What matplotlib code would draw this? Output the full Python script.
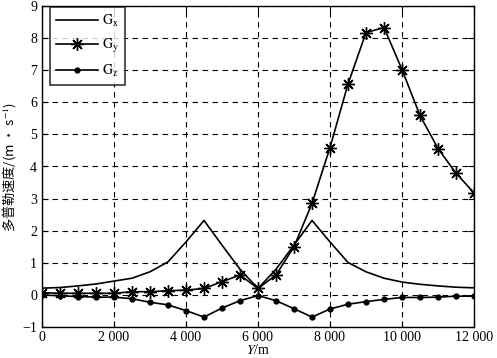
import numpy as np
import matplotlib
matplotlib.use('Agg')
import matplotlib.pyplot as plt
from matplotlib.ticker import FuncFormatter

plt.rcParams['font.family'] = 'Liberation Serif'
plt.rcParams['mathtext.fontset'] = 'stix'

# data
y_pos = [0, 500, 1000, 1500, 2000, 2500, 3000, 3500, 4000, 4500, 5000, 5500, 6000,
         6500, 7000, 7500, 8000, 8500, 9000, 9500, 10000, 10500, 11000, 11500, 12000]
gx = [0.21, 0.23, 0.28, 0.34, 0.43, 0.52, 0.72, 1.03, 1.65, 2.32, 1.55, 0.80, 0.20,
      0.80, 1.55, 2.32, 1.65, 1.01, 0.72, 0.52, 0.40, 0.33, 0.28, 0.24, 0.22]
gy = [0.07, 0.05, 0.05, 0.05, 0.05, 0.10, 0.10, 0.13, 0.15, 0.20, 0.41, 0.62, 0.20,
      0.62, 1.50, 2.85, 4.59, 6.57, 8.17, 8.33, 7.02, 5.59, 4.56, 3.79, 3.18]
gz = [0.0, -0.03, -0.05, -0.07, -0.07, -0.12, -0.23, -0.31, -0.49, -0.69, -0.41, -0.18, -0.02,
      -0.18, -0.43, -0.69, -0.44, -0.29, -0.21, -0.14, -0.08, -0.08, -0.07, -0.04, -0.04]

fig = plt.figure(figsize=(4.97, 3.58), dpi=100)
ax = fig.add_axes([42 / 497, 1 - 327 / 358, 432 / 497, 321 / 358])

ax.plot(y_pos, gx, color='black', lw=1.2, label='$\\mathrm{G_x}$')
ax.plot(y_pos, gy, color='black', lw=1.2, marker=(8, 2, 0), markersize=9,
        markeredgewidth=1.0, label='$\\mathrm{G_y}$')
ax.plot(y_pos, gz, color='black', lw=1.2, marker='o', markersize=3.5,
        label='$\\mathrm{G_z}$')

ax.set_xlim(0, 12000)
ax.set_ylim(-1, 9)
ax.set_xticks(np.arange(0, 12001, 2000))
ax.set_yticks(np.arange(-1, 10, 1))
ax.xaxis.set_major_formatter(FuncFormatter(lambda v, p: '0' if v == 0 else f'{int(v):,}'.replace(',', ' ')))
ax.grid(True, color='black', linestyle=(0, (5, 4)), linewidth=0.8)
ax.tick_params(direction='in', top=True, right=True, labelsize=10, length=4)
ax.tick_params(axis='x', pad=3)
for spine in ax.spines.values():
    spine.set_linewidth(1.0)

ax.set_xlabel('$Y$/m', fontsize=10, labelpad=-1)
ax.set_ylabel('多普勒速度/(m · s$^{-1}$)', fontsize=9.5,
              family=['Noto Sans CJK SC', 'DejaVu Sans'], labelpad=3)

leg = ax.legend(loc='upper left', fontsize=10, frameon=True, fancybox=False,
                edgecolor='black', handlelength=3.0, borderpad=0.45,
                labelspacing=0.55, handletextpad=0.3, borderaxespad=0,
                bbox_to_anchor=(0.019, 0.997))
leg.get_frame().set_linewidth(1.2)

fig.savefig('out.png', dpi=100)
